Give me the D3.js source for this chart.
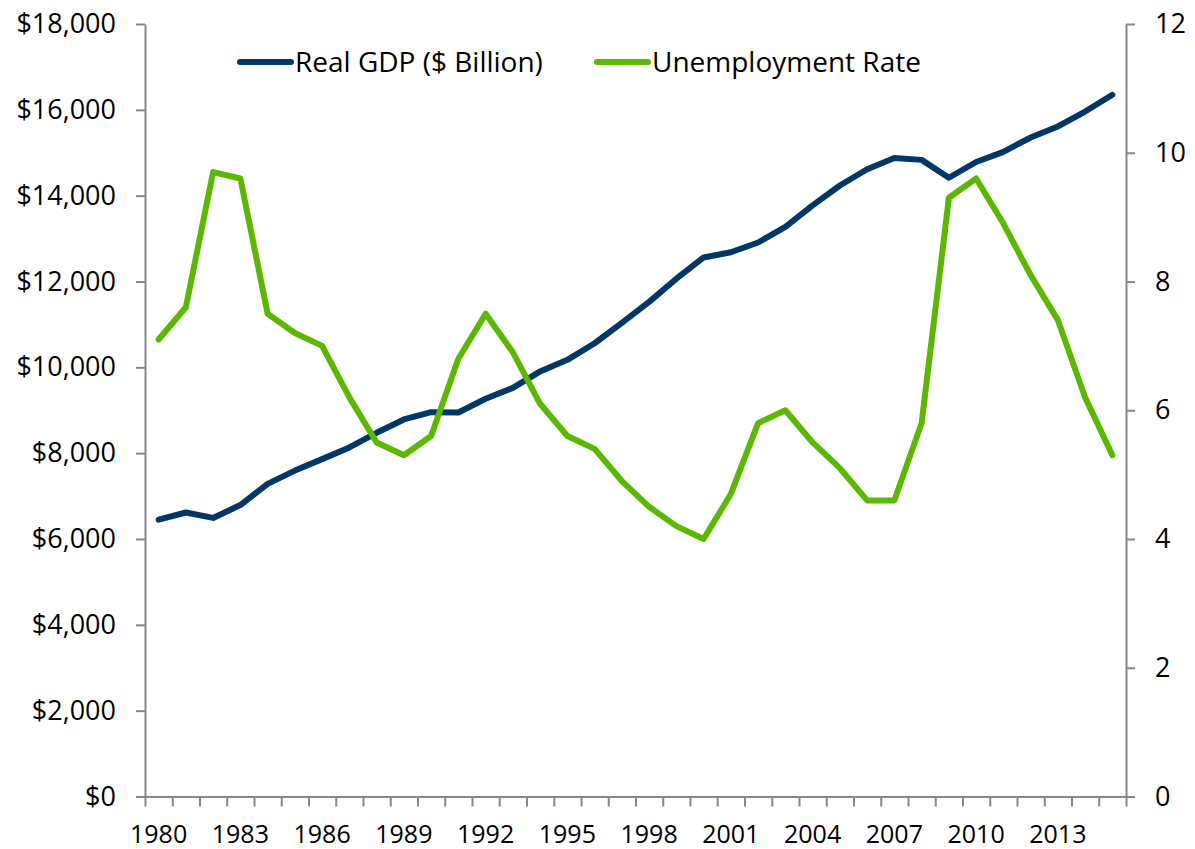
<!DOCTYPE html>
<html>
<head>
<meta charset="utf-8">
<script src="https://cdn.jsdelivr.net/npm/d3@7"></script>
<style>
  html, body { margin: 0; padding: 0; background: #fff; }
  svg { display: block; font-family: "Open Sans", sans-serif; }
</style>
</head>
<body>
<svg id="chart" width="1195" height="849"></svg>
<script>
// Annual data, 1980–2015
const years = d3.range(1980, 2016);
const realGdp = [
  6450, 6618, 6491, 6792, 7285, 7594, 7861, 8133, 8475, 8786,
  8955, 8948, 9267, 9521, 9905, 10175, 10561, 11035, 11526, 12066,
  12560, 12682, 12909, 13271, 13774, 14236, 14615, 14877, 14834, 14418,
  14784, 15021, 15355, 15612, 15960, 16350
];
const unemploymentRate = [
  7.1, 7.6, 9.7, 9.6, 7.5, 7.2, 7.0, 6.2, 5.5, 5.3,
  5.6, 6.8, 7.5, 6.9, 6.1, 5.6, 5.4, 4.9, 4.5, 4.2,
  4.0, 4.7, 5.8, 6.0, 5.5, 5.1, 4.6, 4.6, 5.8, 9.3,
  9.6, 8.9, 8.1, 7.4, 6.2, 5.3
];
const leftTicks = d3.range(0, 18001, 2000);
const rightTicks = d3.range(0, 13, 2);
const labelYears = years.filter((y, i) => i % 3 === 0);

const seriesNames = ["Real GDP ($ Billion)", "Unemployment Rate"];
const seriesColors = ["#003764", "#5bb800"];

const svg = d3.select("#chart");
const plot = { left: 145, right: 1126, top: 24, bottom: 796.5 };
const axisColor = "#878787";

// Category slots: one band per year, points sit in the middle of each band
const xIdx = d3.scaleLinear().domain([0, years.length]).range([plot.left, plot.right]);
const xYear = y => xIdx(years.indexOf(y) + 0.5);
const yLeft = d3.scaleLinear().domain([0, 18000]).range([plot.bottom, plot.top]);
const yRight = d3.scaleLinear().domain([0, 12]).range([plot.bottom, plot.top]);

function styleAxis(g) {
  g.attr("font-family", null).attr("font-size", null);
  g.selectAll("path.domain, line").attr("stroke", axisColor).attr("stroke-width", 2);
  g.selectAll("text").attr("fill", "#000");
}

// Left axis
svg.append("g")
  .attr("transform", `translate(${plot.left},0)`)
  .call(d3.axisLeft(yLeft).tickValues(leftTicks).tickSize(9).tickSizeOuter(0).tickPadding(20)
    .tickFormat(d => "$" + d3.format(",")(d)))
  .call(styleAxis)
  .call(g => g.selectAll("text").attr("font-size", 27));

// Right axis
svg.append("g")
  .attr("transform", `translate(${plot.right},0)`)
  .call(d3.axisRight(yRight).tickValues(rightTicks).tickSize(9).tickSizeOuter(0).tickPadding(20))
  .call(styleAxis)
  .call(g => g.selectAll("text").attr("font-size", 27));

// Bottom axis: tick marks on band boundaries
svg.append("g")
  .attr("transform", `translate(0,${plot.bottom})`)
  .call(d3.axisBottom(xIdx).tickValues(d3.range(0, years.length + 1)).tickSize(10).tickSizeOuter(0).tickFormat(""))
  .call(styleAxis);

// Year labels every third year, centred on the category
svg.append("g")
  .selectAll("text")
  .data(labelYears)
  .join("text")
  .attr("x", d => xYear(d))
  .attr("y", 843)
  .attr("text-anchor", "middle")
  .attr("font-size", 25)
  .attr("fill", "#000")
  .text(d => d);

// Series lines
const gdpLine = d3.line()
  .x((d, i) => xYear(years[i]))
  .y(d => yLeft(d));
const unempLine = d3.line()
  .x((d, i) => xYear(years[i]))
  .y(d => yRight(d));

svg.append("path")
  .datum(realGdp)
  .attr("d", gdpLine)
  .attr("fill", "none")
  .attr("stroke", seriesColors[0])
  .attr("stroke-width", 6)
  .attr("stroke-linejoin", "round")
  .attr("stroke-linecap", "round");

svg.append("path")
  .datum(unemploymentRate)
  .attr("d", unempLine)
  .attr("fill", "none")
  .attr("stroke", seriesColors[1])
  .attr("stroke-width", 6)
  .attr("stroke-linejoin", "round")
  .attr("stroke-linecap", "round");

// Legend
const legendItems = [
  { name: seriesNames[0], color: seriesColors[0], x: 240 },
  { name: seriesNames[1], color: seriesColors[1], x: 597 }
];
const legend = svg.append("g").attr("transform", "translate(0,62)");
const item = legend.selectAll("g").data(legendItems).join("g")
  .attr("transform", d => `translate(${d.x},0)`);
item.append("line")
  .attr("x1", 0).attr("x2", 51)
  .attr("stroke", d => d.color)
  .attr("stroke-width", 6)
  .attr("stroke-linecap", "round");
item.append("text")
  .attr("x", 55)
  .attr("dy", "0.35em")
  .attr("font-size", 28)
  .attr("fill", "#000")
  .text(d => d.name);
</script>
</body>
</html>
